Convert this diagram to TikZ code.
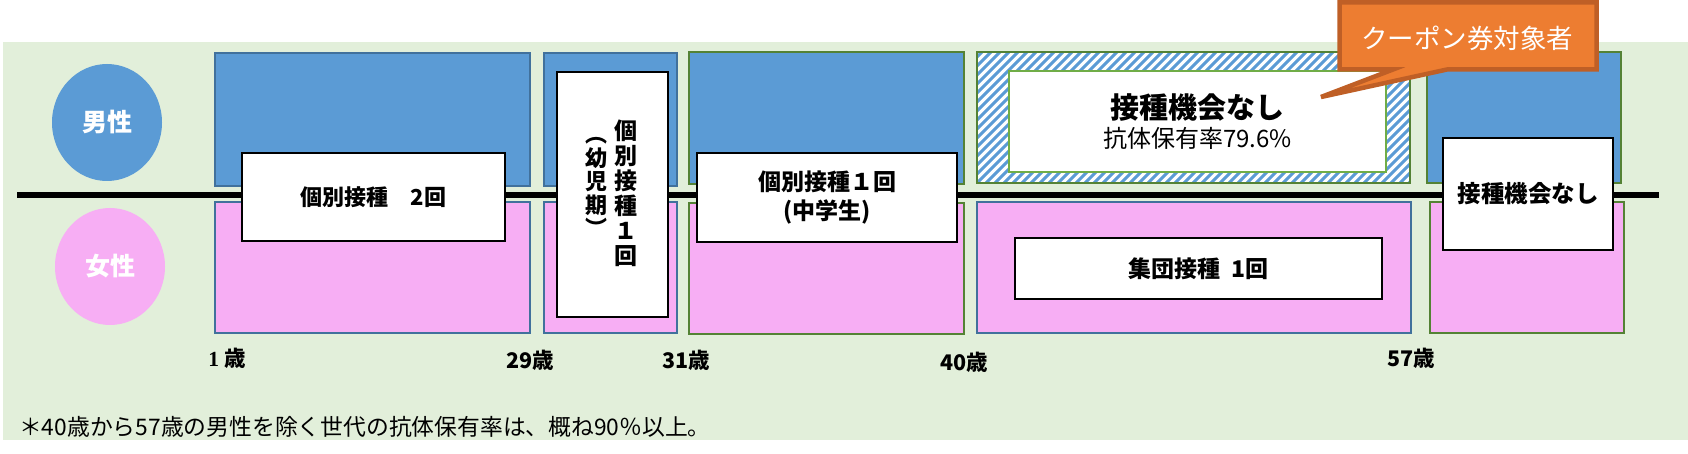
\documentclass[tikz,border=0pt]{standalone}
\usepackage{fontspec}
\setmainfont{Noto Sans CJK JP}
\newfontfamily\serifnum{Liberation Serif}
\usetikzlibrary{shapes.geometric}
\newcommand\fsz[1]{\fontsize{#1bp}{#1bp}\selectfont}
\definecolor{bgc}{HTML}{E2EFDA}
\definecolor{bluec}{HTML}{5B9BD5}
\definecolor{pinkc}{HTML}{F7AEF4}
\definecolor{blueline}{HTML}{41719C}
\definecolor{greenline}{HTML}{548235}
\definecolor{lightgreen}{HTML}{70AD47}
\definecolor{orangec}{HTML}{ED7D31}
\definecolor{orangeline}{HTML}{BF5F26}
\begin{document}
\begin{tikzpicture}[x=1bp,y=-1bp,
  colbox/.style={draw, line width=2.5bp, anchor=north west, inner sep=0pt, outer sep=0pt},
  mbox/.style={colbox, fill=bluec},
  fbox/.style={colbox, fill=pinkc},
  bl/.style={draw=blueline},
  gl/.style={draw=greenline},
  wbox/.style={draw=black, fill=white, line width=1.5bp, anchor=north west, inner sep=0pt, outer sep=0pt, align=center, font=\fsz{22}\bfseries},
  sexnode/.style={ellipse, minimum width=110bp, minimum height=117bp, inner sep=0pt, text=white, font=\fsz{25}\bfseries},
  agelabel/.style={font=\fsz{21.5}\bfseries, inner sep=0pt}
]
\useasboundingbox (0,0) rectangle (1688,454);
\fill[bgc] (3,42) rectangle (1688,440);

% sex markers
\node[sexnode, fill=bluec] (male) at (107,122.5) {男性};
\node[sexnode, fill=pinkc] (female) at (110,266.5) {女性};

% coloured boxes
\node[mbox, bl, minimum width=315bp, minimum height=133bp] (m1) at (215,53) {};
\node[fbox, bl, minimum width=315bp, minimum height=131bp] (f1) at (215,202) {};
\node[mbox, bl, minimum width=133bp, minimum height=133bp] (m2) at (544,53) {};
\node[fbox, bl, minimum width=133bp, minimum height=131bp] (f2) at (544,202) {};
\node[mbox, gl, minimum width=275bp, minimum height=132bp] (m3) at (689,52) {};
\node[fbox, gl, minimum width=275bp, minimum height=131bp] (f3) at (689,203) {};
\node[fbox, bl, minimum width=434bp, minimum height=131bp] (f4) at (977,202) {};
\node[mbox, gl, minimum width=194bp, minimum height=131bp] (m5) at (1427,52) {};
\node[fbox, gl, minimum width=194bp, minimum height=131bp] (f5) at (1430,202) {};

% hatched box
\node[colbox, draw=none, fill=white, minimum width=433bp, minimum height=131bp] (m4) at (977,52) {};
\begin{scope}
  \clip (m4.north west) rectangle (m4.south east);
  \foreach \i in {-16,...,50} {
    \draw[bluec, line width=3bp] (977+\i*9,183) -- ++(131,-131);
  }
\end{scope}
\draw[greenline, line width=2.5bp] (m4.north west) rectangle (m4.south east);

% axis line
\coordinate (axl) at (17,195);
\coordinate (axr) at (1659,195);
\draw[line width=6bp] (axl) -- (axr);

% white boxes
\node[wbox, minimum width=263bp, minimum height=88bp] (w1) at (242,153) {個別接種　2回};
\node[wbox, minimum width=111bp, minimum height=245bp] (w2) at (557,72) {};
\node[font=\fontsize{23bp}{25bp}\selectfont\bfseries, align=center, inner sep=0pt] (w2r) at (626,193.5) {個\\別\\接\\種\\１\\回};
\node[font=\fontsize{22bp}{23.5bp}\selectfont\bfseries, align=center, inner sep=0pt] (w2l) at (596,187) {︵\\幼\\児\\期\\︶};
\node[wbox, minimum width=260bp, minimum height=89bp, font=\fontsize{23bp}{29bp}\selectfont\bfseries] (w3) at (697,153) {個別接種１回\\(中学生)};
\node[wbox, draw=lightgreen, line width=2.5bp, minimum width=377bp, minimum height=101bp] (w4) at (1009,71)
  {{\fsz{29}\bfseries 接種機会なし}\\[5bp]{\fsz{24}\mdseries 抗体保有率79.6\%}};
\node[wbox, line width=2.5bp, minimum width=367bp, minimum height=61bp, font=\fsz{23}\bfseries] (w5) at (1015,238) {集団接種\ \ 1回};
\node[wbox, minimum width=170bp, minimum height=112bp, font=\fsz{23.5}\bfseries] (w6) at (1443,138) {接種機会なし};

% age labels
\node[agelabel] (a1) at (227,358) {{\serifnum 1} 歳};
\node[agelabel] (a29) at (530,360) {29歳};
\node[agelabel] (a31) at (686,360) {31歳};
\node[agelabel] (a40) at (964,362) {40歳};
\node[agelabel] (a57) at (1411,358) {57歳};

% callout
\filldraw[fill=orangec, draw=orangeline, line width=4.5bp, line join=miter]
  (1339.5,2.5) -- (1596.5,2.5) -- (1596.5,69.5) -- (1447,69.5) -- (1321,97) -- (1393,69.5) -- (1339.5,69.5) -- cycle;
\node[text=white, font=\fsz{26.5}, inner sep=0pt] (coupon) at (1467,38) {クーポン券対象者};

% footnote
\node[anchor=west, font=\fsz{22.8}, inner sep=0pt] (note) at (19,427) {＊40歳から57歳の男性を除く世代の抗体保有率は、概ね90％以上。};
\end{tikzpicture}
\end{document}
